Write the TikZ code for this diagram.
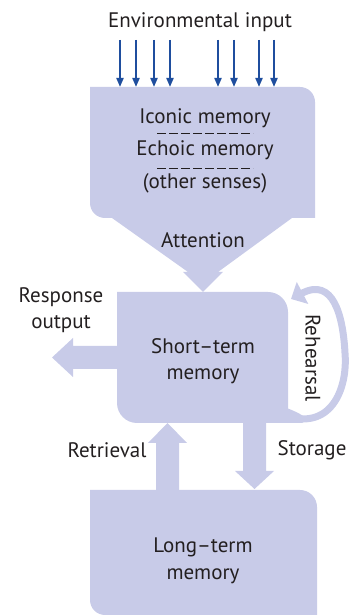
\documentclass[tikz,border=0pt]{standalone}
\usepackage{fontspec}
\setmainfont{PT Sans}
\usetikzlibrary{arrows.meta}
\definecolor{lav}{HTML}{C8CBE8}
\definecolor{inblue}{HTML}{1F4E9E}
\definecolor{txt}{HTML}{231F20}
\begin{document}
\begin{tikzpicture}[x=1pt,y=1pt,
  lbl/.style={font=\fontsize{21}{26.5}\selectfont, text=txt, inner sep=0pt},
  blk/.style={fill=lav, draw=none},
  inarr/.style={draw=inblue, line width=2pt, -{Triangle[length=9pt,width=7pt]}},
  sep/.style={draw=txt, line width=0.9pt, dash pattern=on 9pt off 3pt}]
\useasboundingbox (0,0) rectangle (351,615);
% sensory store
\fill[blk] (90,528) -- (300,528) arc[start angle=90,end angle=0,radius=15] -- (315,397) -- (105,397) arc[start angle=270,end angle=180,radius=15] -- cycle;
% attention funnel
\fill[blk] (112,397) -- (292,397) -- (218,343) -- (223,343) -- (203,323) -- (183,343) -- (188,343) -- cycle;
% short-term memory
\fill[blk] (117,323) -- (268,323) arc[start angle=90,end angle=0,radius=20] -- (288,192) -- (137,192) arc[start angle=270,end angle=180,radius=20] -- cycle;
% long-term memory
\fill[blk] (90,125) -- (300,125) arc[start angle=90,end angle=0,radius=17] -- (317,0) -- (105,0) arc[start angle=270,end angle=180,radius=15] -- cycle;
% response output arrow
\fill[blk] (117,269) -- (73,269) -- (73,277) -- (52,257.5) -- (73,238) -- (73,246) -- (117,246) -- cycle;
% retrieval arrow
\fill[blk] (156,125) -- (156,172) -- (148,172) -- (167.5,192) -- (187,172) -- (179,172) -- (179,125) -- cycle;
% storage arrow
\fill[blk] (243,192) -- (243,144) -- (235,144) -- (254.5,126) -- (274,144) -- (266,144) -- (266,192) -- cycle;
% rehearsal loop
\coordinate (rs) at (284,200);
\coordinate (re) at (291,316);
\fill[blk] (270,192) -- (302,192) .. controls (312,196) and (300,202) .. (284,208) -- cycle;
\draw[draw=lav, line width=7pt, -{Triangle[length=13pt,width=24pt]}]
  (rs) .. controls (330,183) and (348,225) .. (345,262)
       .. controls (343,300) and (333,338) .. (re);
% texts
\node[lbl] (env) at (200,593) {Environmental input};
\foreach \x in {120,136,154,170,218,234,259,274}
  \draw[inarr] (\x,575) -- (\x,528);
\node[lbl] (icon) at (205,497) {Iconic memory};
\draw[sep] (157,482) -- (253,482);
\node[lbl] (echo) at (205,465) {Echoic memory};
\draw[sep] (157,447) -- (253,447);
\node[lbl] (oth) at (205,432) {(other senses)};
\node[lbl] (att) at (203,375) {Attention};
\node[lbl, align=center] (resp) at (61,305) {Response\\output};
\node[lbl, align=center] (stm) at (203,254) {Short–term\\memory};
\node[lbl, rotate=-90] (reh) at (313,257) {Rehearsal};
\node[lbl] (retr) at (107,165) {Retrieval};
\node[lbl] (stor) at (312,165) {Storage};
\node[lbl, align=center] (ltm) at (203,54) {Long–term\\memory};
\end{tikzpicture}
\end{document}
